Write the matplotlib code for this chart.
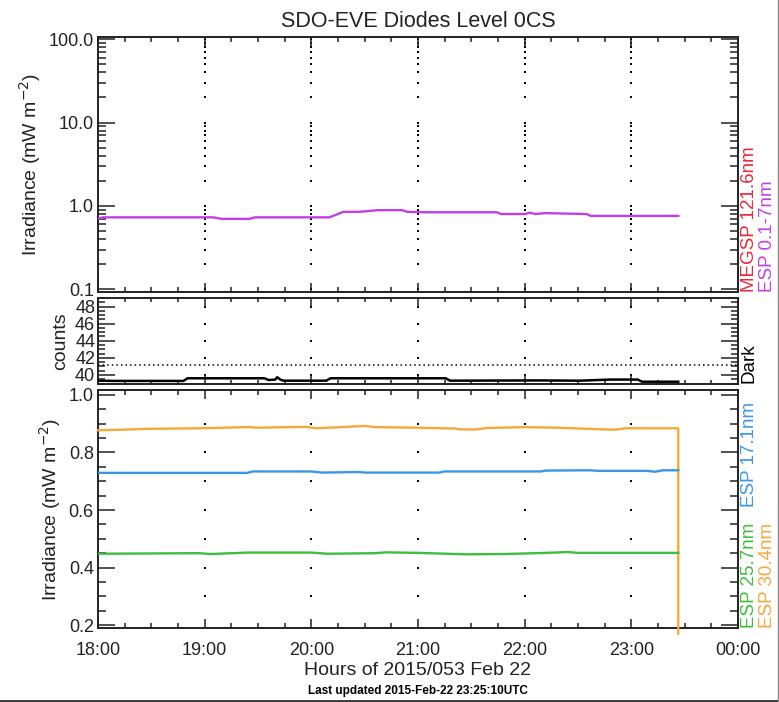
import numpy as np
import matplotlib
matplotlib.use("Agg")
import matplotlib.pyplot as plt
from matplotlib import ticker
from matplotlib.lines import Line2D

plt.rcParams['font.family'] = ['Liberation Sans', 'DejaVu Sans']

# ESP 0.1-7nm irradiance (top panel, log scale)
esp_q_hours = [18.00, 18.05, 19.08, 19.16, 19.42, 19.47, 20.17, 20.30, 20.44, 20.50, 20.62,
               20.85, 20.90, 21.06, 21.74, 21.78, 22.00, 22.05, 22.10, 22.19, 22.58, 22.62, 23.44]
esp_q_vals = [0.71, 0.73, 0.73, 0.70, 0.70, 0.73, 0.73, 0.85, 0.85, 0.86, 0.89,
              0.89, 0.85, 0.84, 0.84, 0.80, 0.80, 0.83, 0.80, 0.82, 0.80, 0.76, 0.76]

# dark counts (middle panel)
dark_hours = [18.00, 18.16, 18.80, 18.84, 19.56, 19.60, 19.66, 19.68, 19.71, 19.74,
              20.14, 20.18, 21.26, 21.30, 22.14, 22.52, 22.80, 23.06, 23.10, 23.44]
dark_vals = [39.33, 39.30, 39.30, 39.61, 39.61, 39.41, 39.45, 39.73, 39.45, 39.33,
             39.33, 39.61, 39.61, 39.33, 39.36, 39.33, 39.46, 39.46, 39.21, 39.21]
dark_level = 41.2

# ESP 30.4nm (orange)
esp304_hours = [18.00, 18.30, 18.45, 18.95, 19.40, 19.50, 19.95, 20.05, 20.50, 20.60, 21.00,
                21.35, 21.40, 21.55, 21.65, 22.00, 22.30, 22.75, 22.85, 22.95, 23.44, 23.44]
esp304_vals = [0.877, 0.880, 0.882, 0.884, 0.888, 0.886, 0.889, 0.884, 0.892, 0.888, 0.886,
               0.883, 0.880, 0.880, 0.885, 0.888, 0.886, 0.880, 0.879, 0.884, 0.884, 0.17]

# ESP 17.1nm (blue)
esp171_hours = [18.00, 19.40, 19.45, 20.00, 20.10, 20.45, 20.50, 21.20, 21.25, 22.15,
                22.20, 22.60, 22.70, 23.15, 23.22, 23.30, 23.44]
esp171_vals = [0.729, 0.729, 0.734, 0.734, 0.730, 0.732, 0.730, 0.730, 0.734, 0.734,
               0.737, 0.738, 0.736, 0.736, 0.733, 0.738, 0.738]

# ESP 25.7nm (green)
esp257_hours = [18.00, 18.95, 19.05, 19.40, 20.00, 20.15, 20.60, 20.70, 21.00, 21.45,
                21.80, 22.20, 22.40, 22.50, 23.44]
esp257_vals = [0.448, 0.450, 0.447, 0.452, 0.452, 0.448, 0.450, 0.453, 0.451, 0.446,
               0.447, 0.451, 0.454, 0.451, 0.451]

W, H = 779, 702
fig = plt.figure(figsize=(W / 100, H / 100), dpi=100)


def box(top, bottom):
    return [98 / W, 1 - bottom / H, 640 / W, (bottom - top) / H]


ax1 = fig.add_axes(box(37, 292))
ax2 = fig.add_axes(box(298, 383.5))
ax3 = fig.add_axes(box(390, 628))

c_mag = '#c23fe6'
c_org = '#f5a93a'
c_blu = '#3c96e6'
c_grn = '#3cbf3c'
c_red = '#e8283a'
c_ax = '#222222'


def hour_fmt(v, p):
    return f"{int(round(v)) % 24:02d}:00"


def style(ax, ymaj, ymin):
    ax.set_xlim(18, 24)
    ax.xaxis.set_major_locator(ticker.MultipleLocator(1))
    ax.xaxis.set_minor_locator(ticker.MultipleLocator(0.25))
    ax.xaxis.set_major_formatter(ticker.FuncFormatter(hour_fmt))
    ax.tick_params(axis='both', which='both', direction='in', top=True, right=True,
                   color=c_ax, labelsize=13, labelcolor=c_ax, width=1.1)
    ax.tick_params(axis='x', which='major', length=ymaj * 0.55, pad=10)
    ax.tick_params(axis='x', which='minor', length=ymin * 0.55)
    ax.tick_params(axis='y', which='major', length=ymaj, pad=3)
    ax.tick_params(axis='y', which='minor', length=ymin)
    for s in ax.spines.values():
        s.set_linewidth(1.4)
        s.set_color(c_ax)


def grid_dots(ax, ylevels):
    lo, hi = ax.get_ylim()
    xs = [x for x in ax.xaxis.get_majorticklocs() if 18 < x < 24]
    ys = [y for y in ylevels if lo < y < hi]
    X, Y = np.meshgrid(xs, ys)
    ax.plot(X.ravel(), Y.ravel(), 's', color='black', ms=2.1, mew=0, zorder=1)


# top panel
ax1.set_yscale('log')
ax1.set_ylim(0.093, 106)
ax1.yaxis.set_major_locator(ticker.LogLocator(base=10))
ax1.yaxis.set_minor_locator(ticker.LogLocator(base=10, subs=np.arange(2, 10)))
ax1.yaxis.set_major_formatter(ticker.FuncFormatter(lambda v, p: f"{v:.1f}"))
ax1.yaxis.set_minor_formatter(ticker.NullFormatter())
style(ax1, 12, 6)
ax1.tick_params(axis='x', labelbottom=False)
grid_dots(ax1, list(ax1.yaxis.get_majorticklocs()) + list(ax1.yaxis.get_minorticklocs()))
ax1.plot(esp_q_hours, esp_q_vals, color=c_mag, lw=1.7, zorder=3)
ax1.set_ylabel('Irradiance (mW m$^{-2}$)', fontsize=14, color=c_ax)
ax1.set_title('SDO-EVE Diodes Level 0CS', fontsize=15.5, pad=7, color=c_ax)

# middle panel
ax2.set_ylim(39, 49)
ax2.yaxis.set_major_locator(ticker.MultipleLocator(2))
ax2.yaxis.set_minor_locator(ticker.MultipleLocator(0.5))
style(ax2, 12, 5)
ax2.tick_params(axis='x', labelbottom=False)
ax2.tick_params(axis='y', pad=2)
grid_dots(ax2, ax2.yaxis.get_majorticklocs())
ax2.axhline(dark_level, color='black', lw=1.1, ls=(0, (1, 2)))
ax2.plot(dark_hours, dark_vals, color='black', lw=1.8, zorder=3)
ax2.set_ylabel('counts', fontsize=14, color=c_ax, labelpad=4)

# bottom panel
ax3.set_ylim(0.19, 1.017)
ax3.yaxis.set_major_locator(ticker.MultipleLocator(0.2))
ax3.yaxis.set_minor_locator(ticker.MultipleLocator(0.05))
ax3.yaxis.set_major_formatter(ticker.FuncFormatter(lambda v, p: f"{v:.1f}"))
style(ax3, 12, 6)
grid_dots(ax3, [v for v in ticker.MultipleLocator(0.1).tick_values(0.2, 1.0) if 0.25 < v < 0.95])
ax3.plot(esp304_hours, esp304_vals, color=c_org, lw=1.7, zorder=3, clip_on=False)
ax3.plot(esp171_hours, esp171_vals, color=c_blu, lw=1.7, zorder=3)
ax3.plot(esp257_hours, esp257_vals, color=c_grn, lw=1.7, zorder=3)
ax3.set_ylabel('Irradiance (mW m$^{-2}$)', fontsize=14, color=c_ax)
ax3.set_xlabel('Hours of 2015/053 Feb 22', fontsize=14, color=c_ax, labelpad=2)

# right-hand labels
col1, col2 = 749 / W, 767 / W


def side(x, ypix, s, color):
    fig.text(x, 1 - ypix / H, s, rotation=90, ha='center', va='bottom',
             fontsize=13.5, color=color)


side(col1, 292, 'MEGSP 121.6nm', c_red)
side(col2, 292, 'ESP 0.1-7nm', c_mag)
side(col1, 383, 'Dark', 'black')
side(col1, 507, 'ESP 17.1nm', c_blu)
side(col1, 628, 'ESP 25.7nm', c_grn)
side(col2, 628, 'ESP 30.4nm', c_org)

fig.text(418 / W, 1 - 691 / H, 'Last updated 2015-Feb-22 23:25:10UTC', ha='center',
         va='center', fontsize=8.5, fontweight='bold', color='black')

# screenshot frame on right and bottom edges
fig.add_artist(Line2D([0, 1], [0.001, 0.001], transform=fig.transFigure, color='#333333', lw=2))
fig.add_artist(Line2D([0.999, 0.999], [0, 1], transform=fig.transFigure, color='#888888', lw=1))

fig.savefig('out.png', dpi=100)
